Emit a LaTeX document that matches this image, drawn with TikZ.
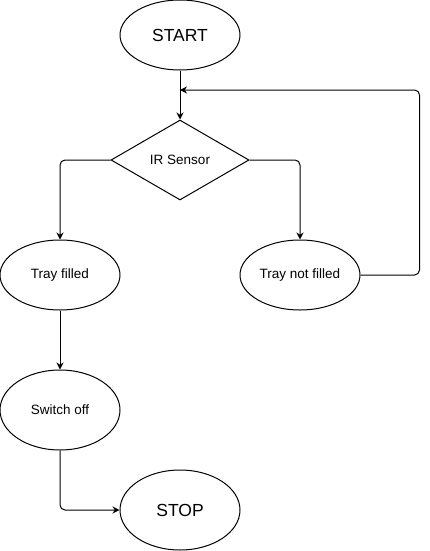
\documentclass[tikz,border=0pt]{standalone}
\usepackage{fontspec}
\setmainfont{Liberation Sans}
\usetikzlibrary{shapes.geometric,arrows.meta}
\tikzset{
  blob/.style={draw, ellipse, inner sep=0pt, minimum width=120pt, font=\fontsize{13.5}{16}\selectfont},
  bigblob/.style={blob, font=\fontsize{17.5}{20}\selectfont},
  choice/.style={draw, diamond, inner sep=0pt, minimum width=138pt, minimum height=80pt, font=\fontsize{13.5}{16}\selectfont},
  flow/.style={-{Stealth[length=7pt, width=7pt]}, rounded corners=5pt}
}
\begin{document}
\begin{tikzpicture}[x=1pt, y=-1pt, line width=1pt]
\useasboundingbox (0, 0) rectangle (429, 551);
\node [bigblob, minimum height=70pt] (start) at (180, 35) {START};
\node [choice] (sensor) at (180, 160) {IR Sensor};
\node [blob, minimum height=70pt] (filled) at (60, 275) {Tray filled};
\node [blob, minimum height=70pt] (notfilled) at (300, 275) {Tray not filled};
\node [blob, minimum height=80pt] (off) at (60, 410) {Switch off};
\node [bigblob, minimum height=80pt] (stop) at (180, 510) {STOP};
\path (180, 90) coordinate (join);

%%%%%%%%%%%%%%%%%%%%%%%%%%%%%%%%%%%%%%%%

\draw [flow] (start) -- (sensor);
\draw [flow] (sensor.west) -| (filled);
\draw [flow] (sensor.east) -| (notfilled);
\draw [flow] (filled) -- (off);
\draw [flow] (off.south) |- (stop.west);
\draw [flow]
     (notfilled.east)
  -- ++(59, 0)
  |- (join);

\end{tikzpicture}
\end{document}
